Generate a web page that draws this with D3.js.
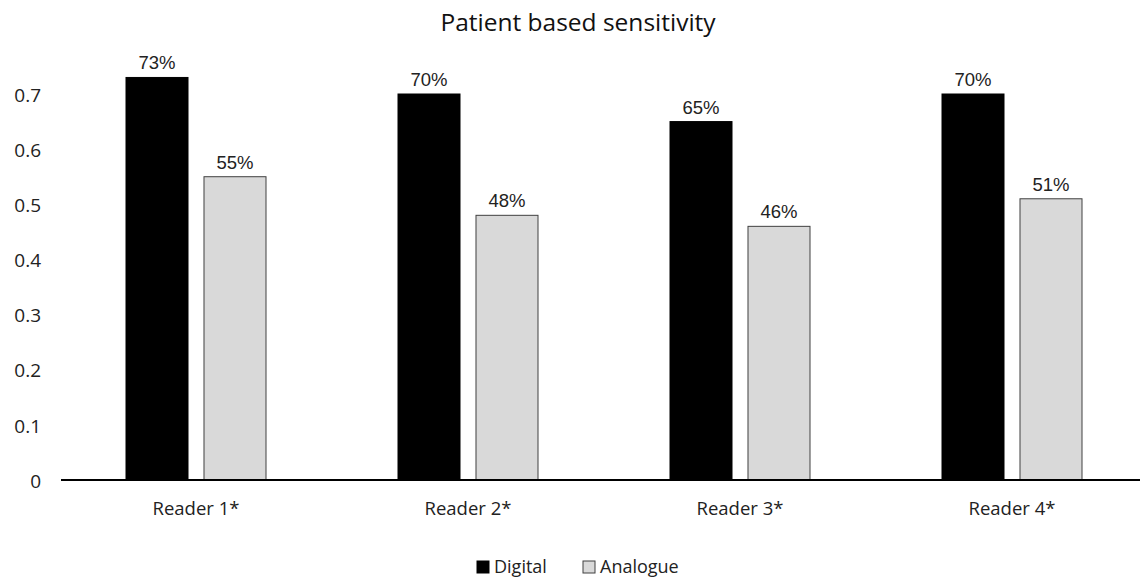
<!DOCTYPE html>
<html><head><meta charset="utf-8">
<script src="https://cdn.jsdelivr.net/npm/d3@7"></script>
<style>body{margin:0;background:#fff}</style>
</head><body>
<script>
const categories = ["Reader 1*", "Reader 2*", "Reader 3*", "Reader 4*"];
const seriesNames = ["Digital", "Analogue"];
const digital = [0.73, 0.70, 0.65, 0.70];
const analogue = [0.55, 0.48, 0.46, 0.51];
const yTicks = [0, 0.1, 0.2, 0.3, 0.4, 0.5, 0.6, 0.7];
const title = "Patient based sensitivity";

const W = 1140, H = 578;
const svg = d3.select("body").append("svg").attr("width", W).attr("height", H);
const colors = {Digital: {fill: "#000", stroke: "#000"}, Analogue: {fill: "#d9d9d9", stroke: "#404040"}};
const catFont = "'Open Sans', Lato, sans-serif";

const x = d3.scaleBand().domain(categories).range([60, 1148]).padding(0);
const xi = d3.scaleBand().domain(seriesNames).range([-70, 70]).paddingInner(0.205);
const y = d3.scaleLinear().domain([0, 0.7]).range([480, 94]);

svg.append("text").attr("x", 578).attr("y", 31).attr("text-anchor", "middle")
  .style("font-family", catFont).style("font-size", "24.5px").attr("fill", "#111").text(title);

// y axis labels
const ya = svg.append("g").attr("transform", "translate(41,0)")
  .call(d3.axisLeft(y).tickValues(yTicks).tickSize(0).tickPadding(0).tickFormat(d => d === 0 ? "0" : d3.format(".1f")(d)));
ya.select(".domain").remove();
ya.selectAll("text").style("font-family", catFont).style("font-size", "19px").attr("fill", "#222").attr("dy", "0.38em");

const data = categories.map((c, i) => ({c, vals: [{s: "Digital", v: digital[i]}, {s: "Analogue", v: analogue[i]}]}));
const g = svg.append("g");
const grp = g.selectAll("g.cat").data(data).join("g").attr("class", "cat")
  .attr("transform", d => `translate(${x(d.c) + x.bandwidth() / 2},0)`);
grp.selectAll("rect").data(d => d.vals).join("rect")
  .attr("x", d => xi(d.s)).attr("width", xi.bandwidth())
  .attr("y", d => y(d.v)).attr("height", d => y(0) - y(d.v))
  .attr("fill", d => colors[d.s].fill).attr("stroke", d => colors[d.s].stroke).attr("stroke-width", 1);
grp.selectAll("text.val").data(d => d.vals).join("text").attr("class", "val")
  .attr("x", d => xi(d.s) + xi.bandwidth() / 2).attr("y", d => y(d.v) - 8)
  .attr("text-anchor", "middle").style("font-family", "'Liberation Sans', Arial, sans-serif").style("font-size", "18.5px").attr("fill", "#222")
  .text(d => Math.round(d.v * 100) + "%");

// x axis
const xa = svg.append("g").attr("transform", "translate(0,480)")
  .call(d3.axisBottom(x).tickSize(0).tickPadding(0));
xa.select(".domain").attr("stroke", "#000").attr("stroke-width", 2).attr("d", "M61,0H1140");
xa.selectAll("text").style("font-family", catFont).style("font-size", "18.5px").attr("fill", "#222").attr("dy", 0).attr("y", 35);

// legend
const leg = svg.append("g");
const legX = [477, 583];
seriesNames.forEach((s, i) => {
  leg.append("rect").attr("x", legX[i]).attr("y", 561).attr("width", 12).attr("height", 12)
    .attr("fill", colors[s].fill).attr("stroke", colors[s].stroke).attr("stroke-width", 1);
  leg.append("text").attr("x", legX[i] + 17).attr("y", 573).style("font-family", catFont).style("font-size", "18px").attr("fill", "#222").text(s);
});
</script>
</body></html>
